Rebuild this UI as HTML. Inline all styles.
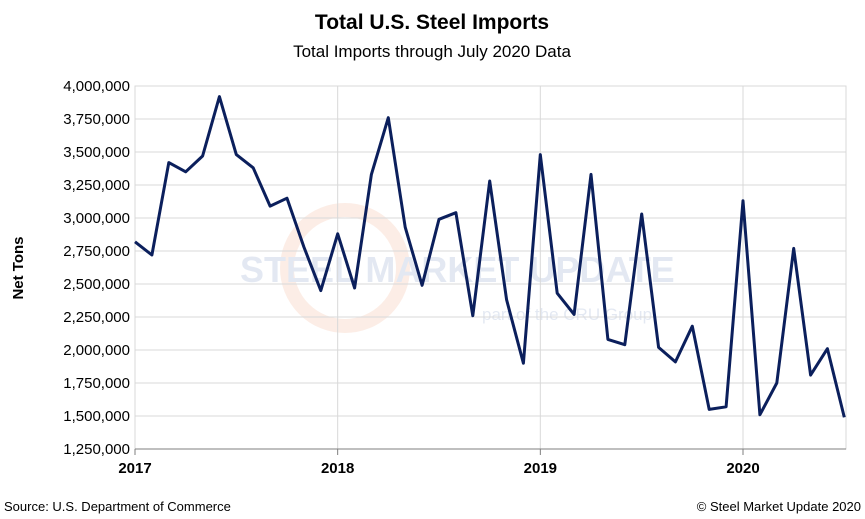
<!DOCTYPE html>
<html><head><meta charset="utf-8"><style>
html,body{margin:0;padding:0;background:#fff;}
svg{display:block;font-family:"Liberation Sans",sans-serif;}
</style></head><body>
<svg id="chart" width="865" height="519" viewBox="0 0 865 519">
<text x="432" y="29" text-anchor="middle" font-size="21" font-weight="bold" fill="#000">Total U.S. Steel Imports</text>
<text x="432" y="57" text-anchor="middle" font-size="17" fill="#000">Total Imports through July 2020 Data</text>
<g opacity="0.12">
<circle cx="345" cy="268" r="58" fill="none" stroke="#e8743b" stroke-width="14"/>
<text x="240" y="282" font-size="36" font-weight="bold" fill="#1f4e9a">STEEL MARKET UPDATE</text>
<text x="482" y="320" font-size="17" fill="#1f4e9a">part of the CRU Group</text>
</g>
<g id="grid"></g>
<g id="axes"></g>
<g id="series"></g>
<text transform="translate(23,268) rotate(-90)" text-anchor="middle" font-size="15" font-weight="bold">Net Tons</text>
<text x="4" y="511" font-size="13">Source: U.S. Department of Commerce</text>
<text x="861" y="511" text-anchor="end" font-size="13">© Steel Market Update 2020</text>
</svg>
<script>
const yTicks=[1250000,1500000,1750000,2000000,2250000,2500000,2750000,3000000,3250000,3500000,3750000,4000000];
const yearLabels=["2017","2018","2019","2020"];
const imports=[2820000,2720000,3420000,3350000,3470000,3920000,3480000,3380000,3090000,3150000,2780000,2450000,
2880000,2470000,3330000,3760000,2930000,2490000,2990000,3040000,2260000,3280000,2380000,1900000,
3480000,2430000,2270000,3330000,2080000,2040000,3030000,2020000,1910000,2180000,1550000,1570000,
3130000,1510000,1750000,2770000,1810000,2010000,1490000];
const NS="http://www.w3.org/2000/svg";
const X0=135,X1=846,Y0=449,Y1=86,MONTH=(743-135)/36;
const xS=i=>X0+i*MONTH;
const yS=v=>Y0-(v-1250000)/(4000000-1250000)*(Y0-Y1);
function mk(t,a,p){const e=document.createElementNS(NS,t);for(const k in a)e.setAttribute(k,a[k]);p.appendChild(e);return e;}
const grid=document.getElementById('grid'),axes=document.getElementById('axes'),ser=document.getElementById('series');
const bg=mk('rect',{x:X0,y:Y1,width:X1-X0,height:Y0-Y1,fill:'none',stroke:'#d9d9d9'},grid);


yTicks.forEach(v=>{
 const l=mk('line',{x1:X0,x2:X1,y1:yS(v),y2:yS(v),stroke:'#d9d9d9'},grid);
 
 
 const t=mk('text',{x:X0-5,y:yS(v)+5,'text-anchor':'end','font-size':'15'},axes);
 t.textContent=v.toLocaleString('en-US');
 
 
});
yearLabels.forEach((y,i)=>{
 const x=xS(i*12);
 if(i>0){const l=mk('line',{x1:x,x2:x,y1:Y1,y2:Y0,stroke:'#d9d9d9'},grid);
 
 }
 const tk=mk('line',{x1:x,x2:x,y1:Y0,y2:Y0+6,stroke:'#7f7f7f'},axes);
 
 
 const t=mk('text',{x:x,y:Y0+24,'text-anchor':'middle','font-size':'15','font-weight':'bold'},axes);
 t.textContent=y;
 
 
});
const ax=mk('line',{x1:X0,x2:X1,y1:Y0,y2:Y0,stroke:'#7f7f7f'},axes);


const pts=imports.map((v,i)=>xS(i).toFixed(1)+','+yS(v).toFixed(1)).join(' ');
const line=mk('polyline',{points:pts,fill:'none',stroke:'#0b1f5c','stroke-width':'3','stroke-linejoin':'round'},ser);


</script>
</body></html>
